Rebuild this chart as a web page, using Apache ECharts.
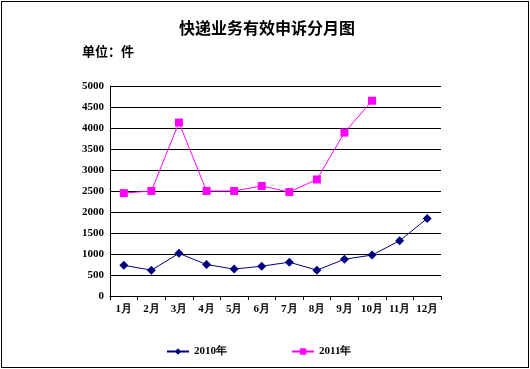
<!DOCTYPE html>
<html><head><meta charset="utf-8">
<script src="https://cdn.jsdelivr.net/npm/echarts@6/dist/echarts.min.js"></script>
<style>
html,body{margin:0;padding:0;background:#fff;}
#c{position:absolute;left:1px;top:1px;width:526px;height:365px;border:1px solid #000;}
</style></head>
<body><div id="c"></div>
<script>
const months = ['1月','2月','3月','4月','5月','6月','7月','8月','9月','10月','11月','12月'];
const s2010 = [730, 615, 1015, 750, 640, 710, 805, 615, 875, 975, 1315, 1845];
const s2011 = [2450, 2500, 4130, 2500, 2500, 2620, 2475, 2775, 3890, 4650];
const seriesNames = ['2010年','2011年'];
const yTicks = {min:0, max:5000, interval:500};

const chart = echarts.init(document.getElementById('c'));
chart.setOption({
  animation:false,
  title:{text:'快递业务有效申诉分月图', left:260, top:13, textAlign:'center',
    textStyle:{fontFamily:'Noto Sans CJK SC', fontSize:16, fontWeight:'bold', color:'#000'}},
  graphic:[{type:'text', left:80, top:43, style:{text:'单位：件', font:'bold 13px "Noto Sans CJK SC"', fill:'#000'}}],
  legend:{top:339, left:159, itemGap:64, itemWidth:22, itemHeight:8,
    textStyle:{fontFamily:'Liberation Serif', fontWeight:'bold', fontSize:11, color:'#000'},
    data:seriesNames},
  grid:{left:108, right:87, top:84, bottom:71},
  xAxis:{type:'category', data:months, boundaryGap:true,
    axisLine:{lineStyle:{color:'#000'}},
    axisTick:{show:true, alignWithLabel:false, length:4, lineStyle:{color:'#000'}},
    axisLabel:{color:'#000', fontFamily:'Liberation Serif', fontWeight:'bold', fontSize:11, margin:8, interval:0}},
  yAxis:{type:'value', min:yTicks.min, max:yTicks.max, interval:yTicks.interval,
    axisLine:{show:true, lineStyle:{color:'#000'}},
    axisTick:{show:false},
    splitLine:{lineStyle:{color:'#000', width:1}},
    axisLabel:{color:'#000', fontFamily:'Liberation Serif', fontWeight:'bold', fontSize:11, margin:6,
      formatter: v => String(v)}},
  series:[
    {name:seriesNames[0], type:'line', data:s2010, symbol:'diamond', symbolSize:9,
     itemStyle:{color:'#000080'}, lineStyle:{color:'#000080', width:1}},
    {name:seriesNames[1], type:'line', data:s2011, symbol:'rect', symbolSize:8,
     itemStyle:{color:'#FF00FF'}, lineStyle:{color:'#FF00FF', width:1}}
  ]
});
</script></body></html>
